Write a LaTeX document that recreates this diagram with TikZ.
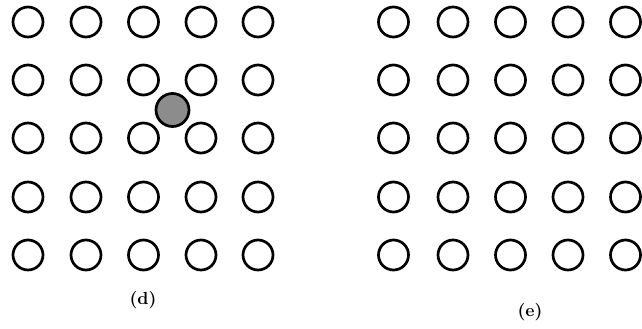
\documentclass[tikz,border=0pt]{standalone}
\usepackage{graphicx}
\begin{document}
\begin{tikzpicture}[x=1pt,y=-1pt,
  site/.style={circle,draw=black,line width=2.7pt,minimum size=30pt,inner sep=0pt},
  interstitial/.style={circle,draw=black,line width=2.7pt,fill=black!45,minimum size=33pt,inner sep=0pt},
  figlabel/.style={inner sep=0pt}]
\useasboundingbox (0,0) rectangle (642,329);
% left lattice (d)
\foreach \c/\x in {1/28,2/86,3/143.5,4/201,5/258}{
  \foreach \r/\y in {1/22,2/80,3/138,4/197,5/255}{
    \node[site] (d\r\c) at (\x,\y) {};
  }
}
\node[interstitial] (dint) at (172.5,110) {};
\node[figlabel] (dlab) at (143,300) {\scalebox{1.75}{\bfseries (d)}};
% right lattice (e)
\foreach \c/\x in {1/393.5,2/453,3/510.5,4/568,5/625.5}{
  \foreach \r/\y in {1/22,2/80,3/138,4/197,5/255}{
    \node[site] (e\r\c) at (\x,\y) {};
  }
}
\node[figlabel] (elab) at (530,312) {\scalebox{1.75}{\bfseries (e)}};
\end{tikzpicture}
\end{document}
